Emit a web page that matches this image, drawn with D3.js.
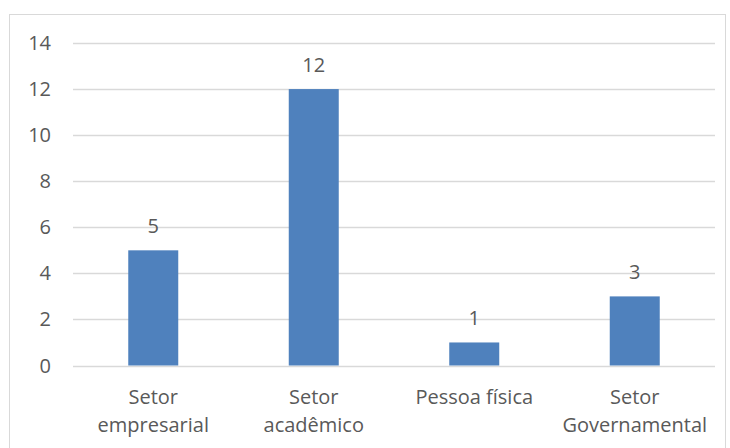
<!DOCTYPE html>
<html>
<head>
<meta charset="utf-8">
<script src="https://cdn.jsdelivr.net/npm/d3@7"></script>
<style>
  body { margin: 0; background: #fff; }
  text { font-family: "Open Sans", sans-serif; fill: #595959; }
</style>
</head>
<body>
<div id="chart"></div>
<script>
  // valores do gráfico
  var categories = [["Setor", "empresarial"], ["Setor", "acadêmico"], ["Pessoa física"], ["Setor", "Governamental"]];
  var values = [5, 12, 1, 3];
  var yTicks = [0, 2, 4, 6, 8, 10, 12, 14];

  var width = 730;
  var height = 448;
  var margin = { top: 43, right: 15, bottom: 82, left: 73 };
  var fs = '20px';

  var svg = d3.select('#chart')
    .append('svg')
    .attr('width', width)
    .attr('height', height);

  // moldura
  svg.append('rect')
    .attr('x', 9.5)
    .attr('y', 14.5)
    .attr('width', 716)
    .attr('height', 445)
    .attr('fill', 'none')
    .attr('stroke', '#d9d9d9');

  var x = d3.scaleBand()
    .domain(d3.range(categories.length))
    .range([margin.left, width - margin.right])
    .paddingInner(0.6885)
    .paddingOuter(0.3443);

  var y = d3.scaleLinear()
    .domain([0, 14])
    .range([height - margin.bottom - 0.5, margin.top]);

  // linhas de grade
  svg.append('g')
    .selectAll('line')
    .data(yTicks)
    .enter()
    .append('line')
    .attr('x1', margin.left)
    .attr('x2', width - margin.right)
    .attr('y1', function(d) { return Math.round(y(d)) + 0.5; })
    .attr('y2', function(d) { return Math.round(y(d)) + 0.5; })
    .attr('stroke', '#d9d9d9')
    .attr('stroke-width', 1.3);

  // rótulos do eixo y
  svg.append('g')
    .selectAll('text')
    .data(yTicks)
    .enter()
    .append('text')
    .attr('x', 51)
    .attr('y', function(d) { return y(d); })
    .attr('dy', '0.35em')
    .attr('text-anchor', 'end')
    .style('font-size', fs)
    .text(function(d) { return d; });

  // barras
  svg.append('g')
    .selectAll('rect')
    .data(values)
    .enter()
    .append('rect')
    .attr('x', function(d, i) { return x(i); })
    .attr('y', function(d) { return y(d); })
    .attr('width', x.bandwidth())
    .attr('height', function(d) { return y(0) - y(d); })
    .attr('fill', '#4f81bd');

  // rótulos de valor
  svg.append('g')
    .selectAll('text')
    .data(values)
    .enter()
    .append('text')
    .attr('x', function(d, i) { return x(i) + x.bandwidth() / 2; })
    .attr('y', function(d) { return y(d) - 24; })
    .attr('dy', '0.35em')
    .attr('text-anchor', 'middle')
    .style('font-size', fs)
    .text(function(d) { return d; });

  // rótulos das categorias
  var cat = svg.append('g')
    .selectAll('text')
    .data(categories)
    .enter()
    .append('text')
    .attr('text-anchor', 'middle')
    .style('font-size', fs);

  cat.selectAll('tspan')
    .data(function(d, i) { return d.map(function(t) { return { t: t, i: i }; }); })
    .enter()
    .append('tspan')
    .attr('x', function(d) { return x(d.i) + x.bandwidth() / 2; })
    .attr('y', function(d, j) { return 397 + j * 28; })
    .attr('dy', '0.35em')
    .text(function(d) { return d.t; });
</script>
</body>
</html>
